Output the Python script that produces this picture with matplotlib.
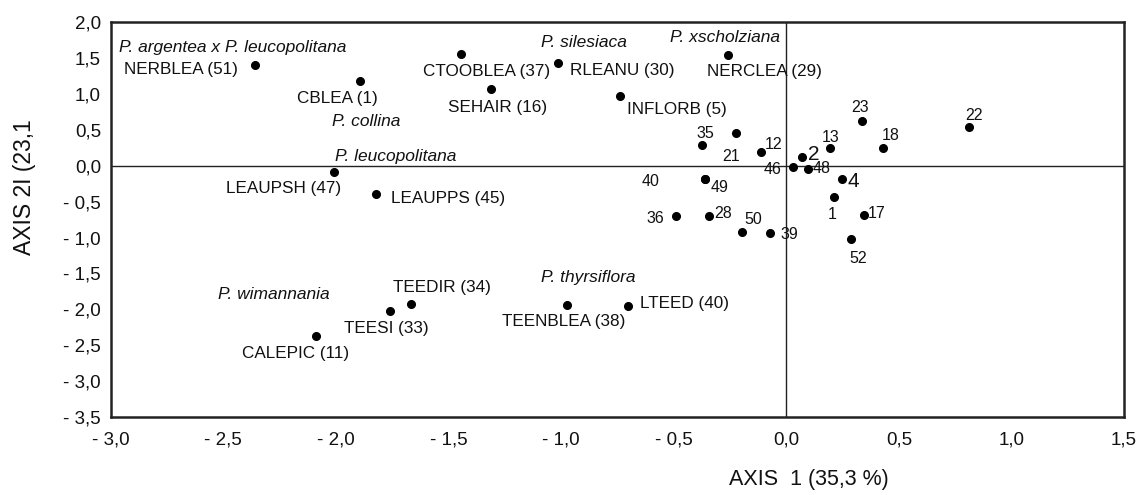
import matplotlib.pyplot as plt
from matplotlib.ticker import FuncFormatter, MultipleLocator

plt.rcParams['font.family'] = ['Liberation Sans', 'DejaVu Sans']

# named characters (ordination scores)
char_names = ["NERBLEA (51)", "CBLEA (1)", "LEAUPSH (47)", "LEAUPPS (45)",
              "CTOOBLEA (37)", "SEHAIR (16)", "RLEANU (30)", "NERCLEA (29)",
              "INFLORB (5)", "TEEDIR (34)", "TEESI (33)", "CALEPIC (11)",
              "TEENBLEA (38)", "LTEED (40)"]
char_x = [-2.358, -1.895, -2.009, -1.820, -1.446, -1.311, -1.012, -0.259,
          -0.737, -1.665, -1.760, -2.090, -0.975, -0.705]
char_y = [1.397, 1.173, -0.088, -0.390, 1.557, 1.067, 1.431, 1.533,
          0.961, -1.923, -2.020, -2.370, -1.940, -1.950]

# numbered samples
num_names = ["35", "21", "12", "40", "49", "36", "28", "50", "39", "46",
             "2", "48", "13", "23", "18", "22", "4", "1", "17", "52"]
num_x = [-0.376, -0.222, -0.112, -0.361, -0.361, -0.488, -0.343, -0.195,
         -0.071, 0.030, 0.069, 0.096, 0.196, 0.336, 0.429, 0.810, 0.248,
         0.214, 0.343, 0.289]
num_y = [0.281, 0.451, 0.194, -0.188, -0.188, -0.696, -0.696, -0.926,
         -0.944, -0.023, 0.125, -0.047, 0.242, 0.620, 0.242, 0.539, -0.192,
         -0.431, -0.687, -1.022]

# species group labels
species = ["P. argentea x P. leucopolitana", "P. collina", "P. leucopolitana",
           "P. silesiaca", "P. xscholziana", "P. wimannania", "P. thyrsiflora"]
species_x = [-2.963, -2.017, -2.005, -1.089, -0.515, -2.525, -1.089]
species_y = [1.639, 0.620, 0.125, 1.712, 1.785, -1.795, -1.552]

# label offsets in pixels (dx, dy with dy downwards) and alignment
char_off = [(-17, 4, 'right'), (-22, 17, 'center'), (-50, 17, 'center'),
            (15, 5, 'left'), (26, 18, 'center'), (7, 19, 'center'),
            (12, 8, 'left'), (-21, 16, 'left'), (7, 13, 'left'),
            (31, -16, 'center'), (-4, 18, 'center'), (-20, 17, 'center'),
            (-3, 16, 'center'), (12, -2, 'left')]
num_off = [(4, -12), (-5, 23), (13, -7), (-54, 2), (15, 8), (-21, 3),
           (14, -2), (11, -13), (19, 1), (-20, 2), (12, -2), (14, 0),
           (0, -11), (-2, -14), (8, -13), (5, -11), (11, 2), (-2, 18),
           (13, -2), (7, 19)]
big_nums = ["2", "4"]

fig = plt.figure(figsize=(11.47, 4.95), dpi=100)
ax = fig.add_axes([0.0965, 0.157, 0.8835, 0.799])

ax.plot(char_x, char_y, 'o', color='black', markersize=5.5)
ax.plot(num_x, num_y, 'o', color='black', markersize=5.5)

ax.axhline(0, color='#222222', lw=1.0, zorder=0)
ax.axvline(0, color='#222222', lw=1.0, zorder=0)

for name, x, y, (dx, dy, ha) in zip(char_names, char_x, char_y, char_off):
    ax.annotate(name, (x, y), xytext=(dx, -dy), textcoords='offset pixels',
                ha=ha, va='center', fontsize=12.3, color='#111111')

for name, x, y, (dx, dy) in zip(num_names, num_x, num_y, num_off):
    fs = 15 if name in big_nums else 11.5
    ax.annotate(name, (x, y), xytext=(dx, -dy), textcoords='offset pixels',
                ha='center', va='center', fontsize=fs, color='#111111')

for name, x, y in zip(species, species_x, species_y):
    ax.text(x, y, name, ha='left', va='center', fontsize=12.5,
            style='italic', color='#111111')

ax.set_xlim(-3.0, 1.5)
ax.set_ylim(-3.5, 2.0)
ax.xaxis.set_major_locator(MultipleLocator(0.5))
ax.yaxis.set_major_locator(MultipleLocator(0.5))


def fmt(v, pos):
    s = f"{abs(v):.1f}".replace('.', ',')
    return "- " + s if v < -1e-9 else s


ax.xaxis.set_major_formatter(FuncFormatter(fmt))
ax.yaxis.set_major_formatter(FuncFormatter(fmt))
ax.tick_params(length=0, labelsize=13.5, colors='#111111')
ax.tick_params(axis='x', pad=10)
ax.tick_params(axis='y', pad=7)

for sp in ax.spines.values():
    sp.set_linewidth(1.8)
    sp.set_color('#222222')

fig.text(809 / 1147, 1 - 480 / 495, "AXIS  1 (35,3 %)", ha='center',
         va='center', fontsize=15.5, color='#111111')
fig.text(25 / 1147, 1 - 187 / 495, "AXIS 2I (23,1", ha='center',
         va='center', rotation=90, fontsize=16.5, color='#111111')

fig.savefig("out.png", dpi=100)
